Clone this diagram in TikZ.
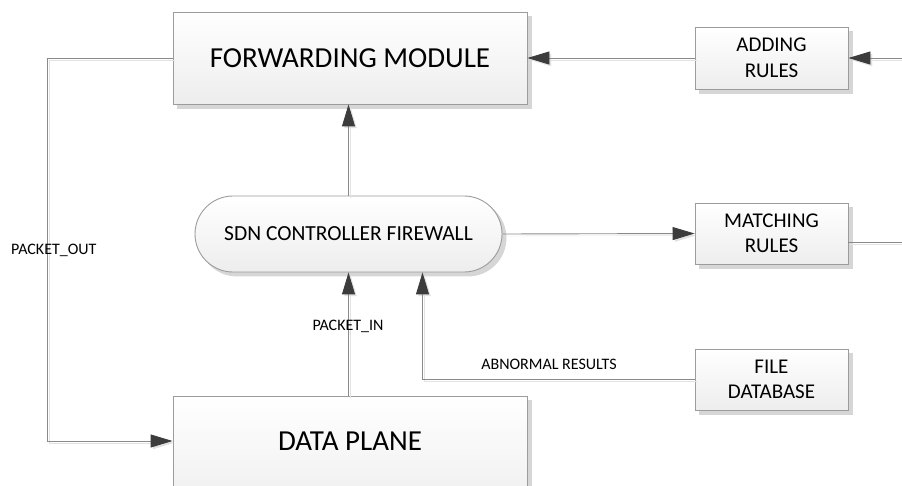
\documentclass[tikz,border=0pt]{standalone}
\usepackage{fontspec}
\setmainfont{Carlito}
\usetikzlibrary{arrows.meta}
\definecolor{linec}{HTML}{8A8A8A}
\definecolor{boxb}{HTML}{9C9C9C}
\definecolor{arrowc}{HTML}{3C3C3C}
\definecolor{shad}{HTML}{D6D6D6}
\definecolor{lineshad}{HTML}{E2E2E2}
\tikzset{
  box/.style={draw=boxb, line width=0.9pt, top color=white, bottom color=black!7,
    inner sep=0pt, align=center,
    preaction={fill=shad, draw=shad, transform canvas={shift={(4pt,-4pt)}}}},
  bigtxt/.style={font=\fontsize{29}{34}\selectfont},
  midtxt/.style={font=\fontsize{21.5}{26}\selectfont},
  smalltxt/.style={font=\fontsize{21}{25.5}\selectfont},
  lbl/.style={font=\fontsize{16}{19}\selectfont, inner sep=0pt, text=black},
  conn/.style={draw=linec, line width=0.9pt,
    preaction={draw=lineshad, transform canvas={shift={(2pt,-2pt)}}}},
  arr/.style={draw=linec, line width=0.9pt,
    -{Triangle[length=22pt,width=13pt,color=arrowc]},
    preaction={draw=lineshad, -{Triangle[length=22pt,width=13pt]},
      transform canvas={shift={(2pt,-2pt)}}}},
}
\begin{document}
\begin{tikzpicture}[x=1pt,y=-1pt]
\useasboundingbox (0,0) rectangle (902,486);
\clip (0,0) rectangle (902,486);

% boxes
\node[box, bigtxt, minimum width=354pt, minimum height=92pt] (fwd) at (350,58) {FORWARDING MODULE};
\node[box, smalltxt, minimum width=153pt, minimum height=62pt] (add) at (771.5,58) {ADDING\\RULES};
\node[box, midtxt, minimum width=307pt, minimum height=76pt, rounded corners=38pt] (sdn) at (348.5,234) {SDN CONTROLLER FIREWALL};
\node[box, smalltxt, minimum width=153pt, minimum height=61pt] (match) at (771.5,233.5) {MATCHING\\RULES};
\node[box, smalltxt, minimum width=153pt, minimum height=61pt] (file) at (771.5,379.5) {FILE\\DATABASE};
\node[box, minimum width=354pt, minimum height=120pt] (data) at (350,456) {};
\node[bigtxt, inner sep=0pt] (datatext) at (350,441) {DATA PLANE};

% free ends
\coordinate (rin) at (902,58);
\coordinate (mout) at (902,242);

% connectors
\draw[arr] (rin) -- (add.east);
\draw[arr] (add.west) -- (fwd.east);
\draw[arr] (sdn.north) -- (sdn.north |- fwd.south);
\draw[arr] (sdn.east) -- (match.west);
\draw[conn] (match.east |- mout) -- (mout);
\draw[arr] (sdn.south |- data.north) -- (sdn.south);
\draw[arr] (file.west) -| ([xshift=74pt]sdn.south);
\draw[arr] (fwd.west) -- ++(-125,0) |- (data.west |- datatext);

% labels
\node[lbl, anchor=west] (pout) at (11,250) {PACKET\_OUT};
\node[lbl] (pin) at (348,326) {PACKET\_IN};
\node[lbl] (abn) at (549,364) {ABNORMAL RESULTS};
\end{tikzpicture}
\end{document}
